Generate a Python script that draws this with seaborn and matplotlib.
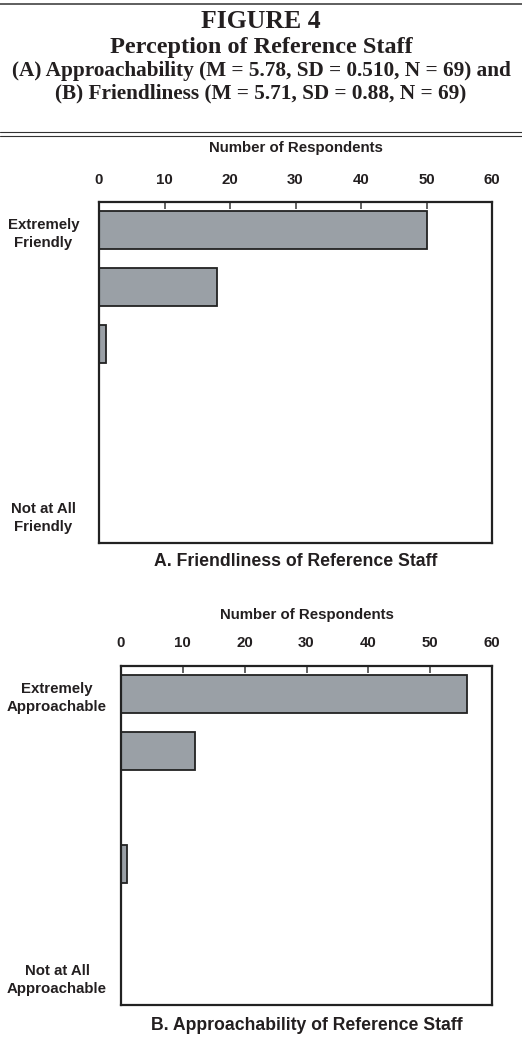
import matplotlib
matplotlib.use("Agg")
import matplotlib.pyplot as plt
from matplotlib.lines import Line2D
import seaborn as sns
import pandas as pd

# ---- data ----
ratings = ["6", "5", "4", "3", "2", "1"]
friendliness_counts = [50, 18, 1, 0, 0, 0]
approachability_counts = [56, 12, 0, 1, 0, 0]
friendly_labels = ["Extremely\nFriendly", "Not at All\nFriendly"]
approach_labels = ["Extremely\nApproachable", "Not at All\nApproachable"]
x_ticks = [0, 10, 20, 30, 40, 50, 60]

title_lines = ["FIGURE 4", "Perception of Reference Staff",
               "(A) Approachability (M = 5.78, SD = 0.510, N = 69) and",
               "(B) Friendliness (M = 5.71, SD = 0.88, N = 69)"]
subtitle_a = "A. Friendliness of Reference Staff"
subtitle_b = "B. Approachability of Reference Staff"
xlabel = "Number of Respondents"

sns.set_theme(style="white")
plt.rcParams['font.family'] = ['Liberation Sans', 'DejaVu Sans']

W, H = 522, 1063
fig = plt.figure(figsize=(W / 100, H / 100), dpi=100)

BAR = "#9aa0a6"
EDGE = "#222222"
TXT = "#231f20"
FS = 10.8


def fy(px):
    return 1 - px / H


def draw_panel(rect, counts, end_labels, subtitle, label_pad, tick_pad, xlabel_y, sub_y):
    ax = fig.add_axes(rect)
    df = pd.DataFrame({"rating": ratings, "count": counts})
    sns.barplot(data=df, y="rating", x="count", orient="h", order=ratings,
                color=BAR, edgecolor=EDGE, linewidth=1.3, width=0.67,
                saturation=1, ax=ax)
    ax.set_xlim(0, 60)
    ax.set_ylim(5.5, -0.5)
    ax.xaxis.tick_top()
    ax.set_xticks(x_ticks)
    ax.set_xticklabels([str(t) for t in x_ticks], fontsize=FS, fontweight="bold", color=TXT)
    ax.tick_params(axis="x", direction="in", length=5, width=1.3, color="#555555",
                   pad=tick_pad, top=True, bottom=False)
    ax.set_yticks([0, 5])
    ax.set_yticklabels(end_labels, fontsize=FS, fontweight="bold", color=TXT,
                       ha="center", multialignment="center", linespacing=1.35)
    ax.tick_params(axis="y", length=0, pad=label_pad)
    ax.set_xlabel("")
    ax.set_ylabel("")
    for s in ax.spines.values():
        s.set_visible(True)
        s.set_color(EDGE)
        s.set_linewidth(1.6)
    cx = rect[0] + rect[2] / 2
    fig.text(cx, fy(xlabel_y), xlabel, ha="center", va="center",
             fontsize=FS, fontweight="bold", color=TXT)
    fig.text(cx, fy(sub_y), subtitle, ha="center", va="center",
             fontsize=12.7, fontweight="bold", color=TXT)
    return ax


# Panel A
draw_panel([99 / W, fy(543), (492 - 99) / W, (543 - 202) / H],
           friendliness_counts, friendly_labels, subtitle_a,
           label_pad=40, tick_pad=11, xlabel_y=148, sub_y=562)
# Panel B
draw_panel([121 / W, fy(1005), (492 - 121) / W, (1005 - 666) / H],
           approachability_counts, approach_labels, subtitle_b,
           label_pad=46, tick_pad=11.5, xlabel_y=615, sub_y=1025)

# Title block
serif = ['Liberation Serif', 'DejaVu Serif']
fig.text(0.5, fy(22), title_lines[0], ha="center", va="center", family=serif,
         fontsize=18.5, fontweight="bold", color=TXT)
fig.text(0.5, fy(48), title_lines[1], ha="center", va="center", family=serif,
         fontsize=17.5, fontweight="bold", color=TXT)
fig.text(0.5, fy(71), title_lines[2], ha="center", va="center", family=serif,
         fontsize=15.3, fontweight="bold", color=TXT)
fig.text(0.5, fy(93), title_lines[3], ha="center", va="center", family=serif,
         fontsize=15.3, fontweight="bold", color=TXT)

for ypx, lw in [(4, 1.1), (132.3, 0.8), (135.7, 0.8)]:
    fig.add_artist(Line2D([0, 1], [fy(ypx), fy(ypx)], transform=fig.transFigure,
                          color="#333333", linewidth=lw))

fig.savefig("out.png", dpi=100)
